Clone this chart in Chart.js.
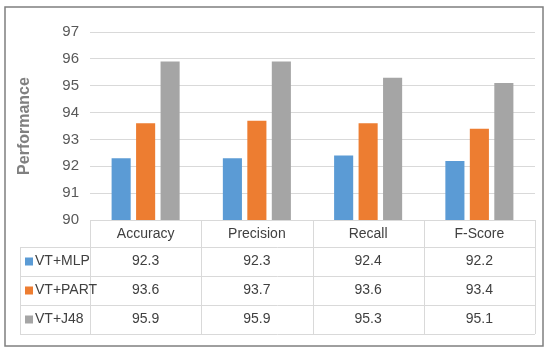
<!DOCTYPE html>
<html>
<head>
<meta charset="utf-8">
<script src="https://cdn.jsdelivr.net/npm/chart.js@4.4.1/dist/chart.umd.min.js"></script>
<style>
  html, body { margin: 0; padding: 0; background: #fff; }
  #wrap { width: 550px; height: 354px; }
</style>
</head>
<body>
<div id="wrap"><canvas id="perfChart" width="550" height="354"></canvas></div>
<script>
const categories = ['Accuracy', 'Precision', 'Recall', 'F-Score'];
const seriesNames = ['VT+MLP', 'VT+PART', 'VT+J48'];
const mlpValues = [92.3, 92.3, 92.4, 92.2];
const partValues = [93.6, 93.7, 93.6, 93.4];
const j48Values = [95.9, 95.9, 95.3, 95.1];
const yMin = 90, yMax = 97, yStep = 1;

const colors = ['#5b9bd5', '#ed7d31', '#a5a5a5'];
const allValues = [mlpValues, partValues, j48Values];
const FONT = '"Liberation Sans Narrow", "Liberation Sans", Arial, sans-serif';

// outer frame + white background
const framePlugin = {
  id: 'frame',
  beforeDraw(chart) {
    const c = chart.ctx;
    c.save();
    c.fillStyle = '#fff';
    c.fillRect(0, 0, chart.width, chart.height);
    c.strokeStyle = '#7f7f7f';
    c.lineWidth = 1.5;
    c.strokeRect(5, 7, 538, 339);
    c.restore();
  }
};

// Excel-style data table under the plot
const tablePlugin = {
  id: 'dataTable',
  afterDraw(chart) {
    const c = chart.ctx;
    const x = chart.scales.x;
    const area = chart.chartArea;
    const headH = 27, rowH = 29, tableLeft = 20;
    const top = area.bottom;
    const rowsTop = top + headH;
    const bottom = rowsTop + rowH * seriesNames.length;
    const half = (x.getPixelForValue(1) - x.getPixelForValue(0)) / 2;
    const bounds = categories.map((_, i) => x.getPixelForValue(i) - half);
    bounds.push(x.getPixelForValue(categories.length - 1) + half);

    c.save();
    c.strokeStyle = '#d9d9d9';
    c.lineWidth = 1;
    c.beginPath();
    // horizontal lines
    c.moveTo(area.left, top + 0.5); c.lineTo(area.right, top + 0.5);
    for (let r = 0; r <= seriesNames.length; r++) {
      const y = Math.round(rowsTop + r * rowH) + 0.5;
      c.moveTo(tableLeft, y); c.lineTo(area.right, y);
    }
    // vertical lines
    bounds.forEach(b => {
      const bx = Math.round(b) + 0.5;
      c.moveTo(bx, top); c.lineTo(bx, bottom);
    });
    c.moveTo(tableLeft + 0.5, rowsTop); c.lineTo(tableLeft + 0.5, bottom);
    c.stroke();

    c.font = '14px ' + FONT;
    c.fillStyle = '#404040';
    c.textBaseline = 'middle';
    c.textAlign = 'center';
    categories.forEach((cat, i) => {
      c.fillText(cat, x.getPixelForValue(i), top + headH / 2 + 1);
    });
    seriesNames.forEach((name, r) => {
      const cy = rowsTop + r * rowH + rowH / 2;
      c.fillStyle = colors[r];
      c.fillRect(tableLeft + 5, cy - 4, 8, 8);
      c.fillStyle = '#404040';
      c.textAlign = 'left';
      c.fillText(name, tableLeft + 15, cy);
      c.textAlign = 'center';
      allValues[r].forEach((v, i) => {
        c.fillText(v.toFixed(1), x.getPixelForValue(i), cy);
      });
    });
    c.restore();
  }
};

new Chart(document.getElementById('perfChart'), {
  type: 'bar',
  data: {
    labels: categories,
    datasets: seriesNames.map((name, i) => ({
      label: name,
      data: allValues[i],
      backgroundColor: colors[i],
      barPercentage: 0.78,
      categoryPercentage: 0.66
    }))
  },
  options: {
    responsive: false,
    animation: false,
    layout: { padding: { left: 11, right: 15, top: 32, bottom: 134 } },
    plugins: {
      legend: { display: false },
      tooltip: { enabled: false }
    },
    scales: {
      x: { display: false },
      y: {
        min: yMin,
        max: yMax,
        afterFit: axis => { axis.width = 79; },
        ticks: { stepSize: yStep, padding: 11, color: '#595959', font: { family: FONT, size: 15 } },
        grid: { color: '#d9d9d9', drawTicks: false },
        border: { display: false },
        title: {
          display: true,
          text: 'Performance',
          color: '#808080',
          font: { family: '"Liberation Sans", Arial, sans-serif', size: 16, weight: 'bold' },
          padding: { top: 4, bottom: 4 }
        }
      }
    }
  },
  plugins: [framePlugin, tablePlugin]
});
</script>
</body>
</html>
